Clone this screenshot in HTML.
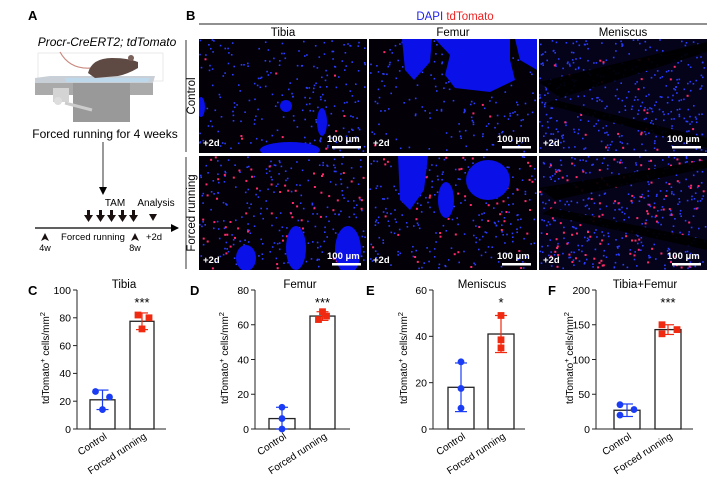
<!DOCTYPE html>
<html><head><meta charset="utf-8">
<style>
html,body{margin:0;padding:0;background:#fff;}
svg{display:block;font-family:"Liberation Sans",Arial,sans-serif;}
</style></head><body>
<svg id="s" width="716" height="480" viewBox="0 0 716 480" xmlns="http://www.w3.org/2000/svg">
<defs>
<clipPath id="c1"><rect x="199" y="39" width="168" height="114"/></clipPath>
<clipPath id="c2"><rect x="369" y="39" width="168" height="114"/></clipPath>
<clipPath id="c4"><rect x="199" y="156" width="168" height="114"/></clipPath>
<clipPath id="c5"><rect x="369" y="156" width="168" height="114"/></clipPath>
<marker id="ah" markerWidth="8" markerHeight="8" refX="7" refY="4" orient="auto" markerUnits="userSpaceOnUse"><path d="M0,0 L8,4 L0,8 z" fill="#000"/></marker>
</defs>

<text x="28" y="20" font-size="13" font-weight="bold">A</text>
<text x="107" y="46" font-size="12" font-style="italic" text-anchor="middle">Procr-CreERT2; tdTomato</text>
<rect x="38" y="53" width="125" height="28" fill="none" stroke="#ddd" stroke-width="0.6"/>
<path d="M35,78 L50,76 L155,76 L153,83 L35,83 z" fill="#c8cfd6"/>
<path d="M65,78 L150,78 L148,82 L66,82 z" fill="#bcd8ea"/>
<rect x="35" y="83" width="118" height="12" fill="#aaa"/>
<rect x="73" y="83" width="57" height="39" fill="#999"/>
<rect x="53" y="88" width="16" height="14" fill="#d4d4d4"/>
<circle cx="58" cy="101" r="4" fill="#ddd"/>
<line x1="65" y1="103" x2="92" y2="110" stroke="#ccc" stroke-width="3"/>
<path d="M60,52 Q70,70 92,68" stroke="#c98a80" fill="none" stroke-width="1.2"/>
<path d="M88,73 Q92,58 112,58 Q128,58 138,62 L138,68 Q128,74 118,76 L95,78 z" fill="#5e4a43"/>
<circle cx="131" cy="58" r="3" fill="#7a625a"/>
<text x="105" y="138" font-size="12" text-anchor="middle">Forced running for 4 weeks</text>
<line x1="103" y1="142" x2="103" y2="194" stroke="#000" stroke-width="0.8" marker-end="url(#ah)"/>
<line x1="35" y1="228" x2="178" y2="228" stroke="#000" stroke-width="1.2" marker-end="url(#ah)"/>
<g fill="#1a1010">
<path d="M87,210 h3 v5 h3 l-4.5,7 l-4.5,-7 h3z"/>
<path d="M99,210 h3 v5 h3 l-4.5,7 l-4.5,-7 h3z"/>
<path d="M110,210 h3 v5 h3 l-4.5,7 l-4.5,-7 h3z"/>
<path d="M121,210 h3 v5 h3 l-4.5,7 l-4.5,-7 h3z"/>
<path d="M132,210 h3 v5 h3 l-4.5,7 l-4.5,-7 h3z"/>
<path d="M149,214 h8 l-4,7z"/>
<path d="M45,233 l4,8 l-4,-2 l-4,2z"/>
<path d="M135,233 l4,8 l-4,-2 l-4,2z"/>
</g>
<text x="115" y="206" font-size="10" text-anchor="middle">TAM</text>
<text x="156" y="206" font-size="10" text-anchor="middle">Analysis</text>
<text x="93" y="240" font-size="9.5" text-anchor="middle">Forced running</text>
<text x="154" y="240" font-size="9.5" text-anchor="middle">+2d</text>
<text x="45" y="251" font-size="9" text-anchor="middle">4w</text>
<text x="135" y="251" font-size="9" text-anchor="middle">8w</text>

<text x="186" y="20" font-size="13" font-weight="bold">B</text>
<text x="455" y="20" font-size="11.5" text-anchor="middle"><tspan fill="#2222ee">DAPI</tspan> <tspan fill="#ee2222">tdTomato</tspan></text>
<line x1="199" y1="24" x2="707" y2="24" stroke="#222" stroke-width="1"/>
<text x="283" y="36" font-size="11.5" text-anchor="middle">Tibia</text>
<text x="453" y="36" font-size="11.5" text-anchor="middle">Femur</text>
<text x="623" y="36" font-size="11.5" text-anchor="middle">Meniscus</text>
<text transform="translate(195,96) rotate(-90)" font-size="11.5" text-anchor="middle">Control</text>
<text transform="translate(195,213) rotate(-90)" font-size="11.5" text-anchor="middle">Forced running</text>
<line x1="186" y1="40" x2="186" y2="152" stroke="#000" stroke-width="0.8"/>
<line x1="186" y1="157" x2="186" y2="269" stroke="#000" stroke-width="0.8"/>

<g>
<rect x="199" y="39" width="168" height="114" fill="#030008"/>
<rect x="369" y="39" width="168" height="114" fill="#030008"/>
<rect x="539" y="39" width="168" height="114" fill="#04031a"/>
<rect x="199" y="156" width="168" height="114" fill="#030008"/>
<rect x="369" y="156" width="168" height="114" fill="#030008"/>
<rect x="539" y="156" width="168" height="114" fill="#04031a"/>
</g>
<g id="dots"></g>
<g fill="#0a10e8">
<g clip-path="url(#c1)">
<ellipse cx="290" cy="150" rx="30" ry="8"/><ellipse cx="322" cy="122" rx="5" ry="14"/><ellipse cx="286" cy="106" rx="6" ry="6"/><ellipse cx="201" cy="107" rx="4" ry="10"/>
</g>
<g clip-path="url(#c2)">
<path d="M402,39 L432,39 L430,62 L414,80 L405,70 Z"/><path d="M435,39 L510,39 L510,60 L515,80 L490,92 L455,88 L445,75 L450,55 Z"/><path d="M515,39 L537,39 L537,70 L520,60 Z"/>
</g>
<g clip-path="url(#c4)">
<ellipse cx="296" cy="248" rx="10" ry="22"/><ellipse cx="348" cy="250" rx="13" ry="24"/><ellipse cx="246" cy="258" rx="10" ry="13"/>
</g>
<g clip-path="url(#c5)">
<path d="M398,156 L428,156 L424,190 L410,210 L400,200 Z"/><ellipse cx="446" cy="200" rx="8" ry="18"/><ellipse cx="488" cy="180" rx="22" ry="20"/>
</g>
</g>
<g fill="#000" opacity="0.92">
<path d="M539,82 L707,42 L707,52 L560,98Z"/><path d="M555,100 L707,138 L707,148 L545,104Z"/>
<path d="M539,188 L707,160 L707,168 L555,200Z"/><path d="M552,208 L707,240 L707,250 L542,214Z"/>
</g>
<g fill="#fff" font-size="9.5" font-weight="bold">
<text x="203" y="146">+2d</text><text x="373" y="146">+2d</text><text x="543" y="146">+2d</text>
<text x="203" y="263">+2d</text><text x="373" y="263">+2d</text><text x="543" y="263">+2d</text>
<text x="327" y="142">100 μm</text><text x="497" y="142">100 μm</text><text x="667" y="142">100 μm</text>
<text x="327" y="259">100 μm</text><text x="497" y="259">100 μm</text><text x="667" y="259">100 μm</text>
</g>
<g fill="#fff">
<rect x="332" y="146" width="29" height="2.5"/><rect x="502" y="146" width="29" height="2.5"/><rect x="672" y="146" width="29" height="2.5"/>
<rect x="332" y="263" width="29" height="2.5"/><rect x="502" y="263" width="29" height="2.5"/><rect x="672" y="263" width="29" height="2.5"/>
</g>

<g id="charts" font-size="10.5"></g>
</svg>
<script>
(function(){
var seed=7;function r(){seed=(seed*16807)%2147483647;return (seed-1)/2147483646;}
var g=document.getElementById('dots');var h='';
var tiles=[[199,39,220,10],[369,39,170,6],[539,39,380,25],[199,156,240,70],[369,156,220,60],[539,156,340,110]];
tiles.forEach(function(t){
 for(var i=0;i<t[2];i++){h+='<rect x="'+(t[0]+r()*166).toFixed(1)+'" y="'+(t[1]+r()*112).toFixed(1)+'" width="1.6" height="1.6" fill="#2a3cff"/>';}
 for(var i=0;i<t[3];i++){h+='<rect x="'+(t[0]+r()*166).toFixed(1)+'" y="'+(t[1]+r()*112).toFixed(1)+'" width="2" height="2" fill="#ff2a6a"/>';}
});
g.innerHTML=h;
var C=[
 {L:'C',lx:28,title:'Tibia',ax:77,max:100,ticks:[0,20,40,60,80,100],b1:[90,115],b2:[130,154],end:166,m:[21,77.5],sd:[7,6],p1:[[27,-7],[23,7],[14,0]],p2:[[82,-4],[72,0],[80,7]],star:'***',tx:124,ylx:49},
 {L:'D',lx:190,title:'Femur',ax:255,max:80,ticks:[0,20,40,60,80],b1:[269,295],b2:[310,335],end:350,m:[6,65],sd:[6.5,2.5],p1:[[12.5,0],[6,0],[0,0]],p2:[[67.5,0],[63,-4],[65,4]],star:'***',tx:300,ylx:228},
 {L:'E',lx:366,title:'Meniscus',ax:433,max:60,ticks:[0,20,40,60],b1:[448,474],b2:[488,514],end:525,m:[18,41],sd:[10.5,8],p1:[[29,0],[17.5,0],[9,0]],p2:[[49,0],[38.5,0],[35,0]],star:'*',tx:482,ylx:407},
 {L:'F',lx:548,title:'Tibia+Femur',ax:596,max:200,ticks:[0,50,100,150,200],b1:[614,640],b2:[655,681],end:693,m:[27,143],sd:[9,7],p1:[[35,-7],[28,7],[20,-7]],p2:[[150,-6],[137,-6],[143,9]],star:'***',tx:645,ylx:573}
];
var y0=429,yt=290,s='';
C.forEach(function(c){
 function Y(v){return y0-(v/c.max)*(y0-yt);}
 s+='<text x="'+c.lx+'" y="295" font-size="13" font-weight="bold">'+c.L+'</text>';
 s+='<text x="'+c.tx+'" y="288" font-size="11.5" text-anchor="middle">'+c.title+'</text>';
 s+='<line x1="'+c.ax+'" y1="'+yt+'" x2="'+c.ax+'" y2="'+y0+'" stroke="#222" stroke-width="1"/>';
 s+='<line x1="'+c.ax+'" y1="'+y0+'" x2="'+c.end+'" y2="'+y0+'" stroke="#222" stroke-width="1"/>';
 c.ticks.forEach(function(t){var y=Y(t);s+='<line x1="'+(c.ax-4)+'" y1="'+y+'" x2="'+c.ax+'" y2="'+y+'" stroke="#222"/>';s+='<text x="'+(c.ax-6)+'" y="'+(y+3.8)+'" text-anchor="end">'+t+'</text>';});
 [[c.b1,c.m[0],c.sd[0],c.p1,'#1a3cf5','c'],[c.b2,c.m[1],c.sd[1],c.p2,'#f02a10','s']].forEach(function(b){
  var x1=b[0][0],x2=b[0][1],cx=(x1+x2)/2,y=Y(b[1]);
  s+='<rect x="'+x1+'" y="'+y+'" width="'+(x2-x1)+'" height="'+(y0-y)+'" fill="#fff" stroke="#222" stroke-width="1.3"/>';
  var ya=Y(b[1]+b[2]),yb=Y(Math.max(0,b[1]-b[2]));
  s+='<line x1="'+cx+'" y1="'+ya+'" x2="'+cx+'" y2="'+yb+'" stroke="'+b[4]+'" stroke-width="1.2"/>';
  s+='<line x1="'+(cx-6)+'" y1="'+ya+'" x2="'+(cx+6)+'" y2="'+ya+'" stroke="'+b[4]+'" stroke-width="1.2"/>';
  s+='<line x1="'+(cx-6)+'" y1="'+yb+'" x2="'+(cx+6)+'" y2="'+yb+'" stroke="'+b[4]+'" stroke-width="1.2"/>';
  b[3].forEach(function(p){var px=cx+p[1],py=Y(p[0]);
   if(b[5]=='c')s+='<circle cx="'+px+'" cy="'+py+'" r="3.4" fill="'+b[4]+'"/>';
   else s+='<rect x="'+(px-3.4)+'" y="'+(py-3.4)+'" width="6.8" height="6.8" fill="'+b[4]+'"/>';});
 });
 var cx2=(c.b2[0]+c.b2[1])/2,cx1=(c.b1[0]+c.b1[1])/2;
 s+='<text x="'+cx2+'" y="307" font-size="13" text-anchor="middle">'+c.star+'</text>';
 s+='<text transform="translate('+(cx1+5)+',438) rotate(-33)" text-anchor="end" font-size="10">Control</text>';
 s+='<text transform="translate('+(cx2+5)+',438) rotate(-33)" text-anchor="end" font-size="10">Forced running</text>';
 s+='<text transform="translate('+c.ylx+',358) rotate(-90)" text-anchor="middle" font-size="10">tdTomato<tspan dy="-4" font-size="7.5">+</tspan><tspan dy="4"> cells/mm</tspan><tspan dy="-4" font-size="7.5">2</tspan></text>';
});
document.getElementById('charts').innerHTML=s;
})();
</script>
</body></html>
